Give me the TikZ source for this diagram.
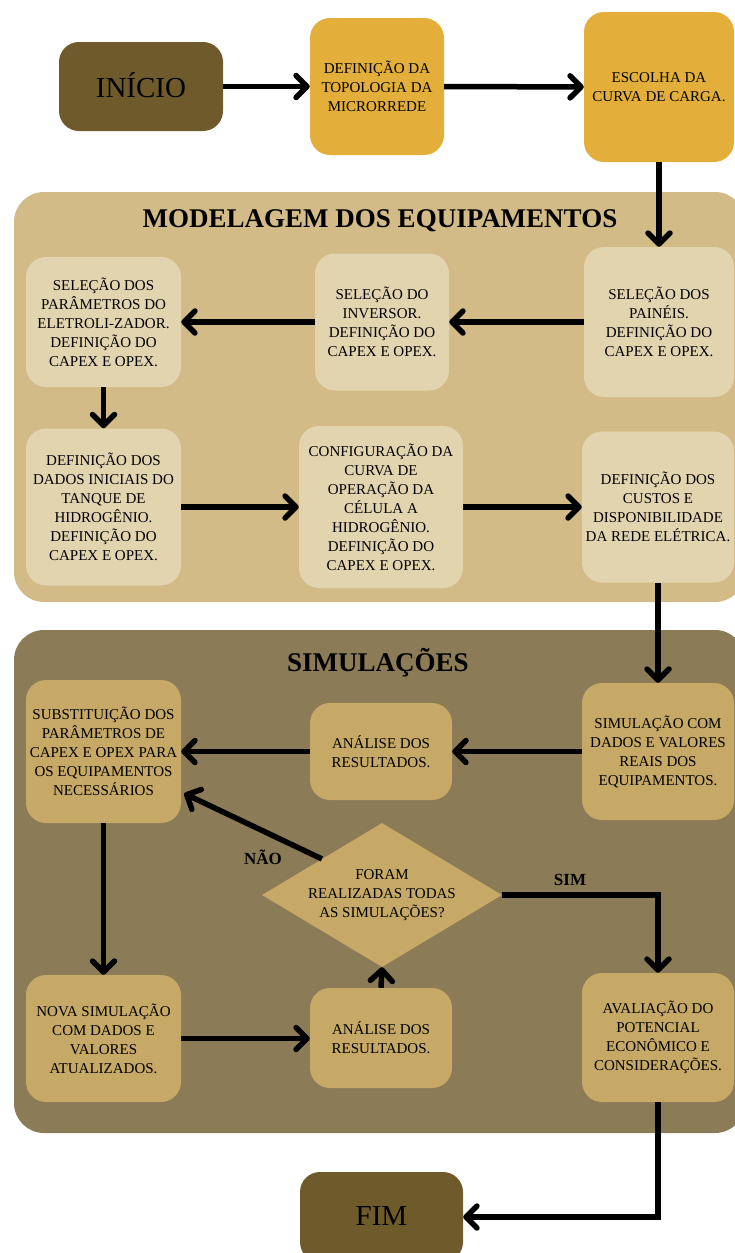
\documentclass[tikz,border=0pt]{standalone}
\usepackage{fontspec}
\setmainfont{Liberation Serif}
\usetikzlibrary{arrows.meta,shapes.geometric,calc}
\definecolor{darkb}{HTML}{6F5A2C}
\definecolor{goldb}{HTML}{E3AF3A}
\definecolor{panelA}{HTML}{D3BB88}
\definecolor{lightb}{HTML}{E2D4AF}
\definecolor{panelB}{HTML}{8C7B57}
\definecolor{simb}{HTML}{C6A867}
\begin{document}
\begin{tikzpicture}[x=1pt,y=-1pt,
  box/.style={rounded corners=20pt, align=center, inner sep=0pt, text=black,
    font=\fontsize{15}{19}\selectfont},
  darkbox/.style={box, fill=darkb, font=\fontsize{29}{32}\selectfont},
  goldbox/.style={box, fill=goldb},
  lightbox/.style={box, fill=lightb},
  simbox/.style={box, fill=simb},
  paneltitle/.style={font=\fontsize{27}{30}\selectfont\bfseries, text=black, inner sep=0pt},
  lbl/.style={font=\fontsize{17}{20}\selectfont\bfseries, text=black, inner sep=0pt},
  arr/.style={line width=5.5pt, black, -{Straight Barb[length=11pt,width=22pt,round]}},
  conn/.style={line width=5.5pt, black}]
\useasboundingbox (0,0) rectangle (735,1253);
\clip (0,0) rectangle (735,1253);

% top row
\node[darkbox, minimum width=164pt, minimum height=89pt] (inicio) at (141,86.5) {\raisebox{2pt}{INÍCIO}};
\node[goldbox, minimum width=134pt, minimum height=137pt] (topo) at (377,86.5) {DEFINIÇÃO DA\\TOPOLOGIA DA\\MICRORREDE};
\node[goldbox, minimum width=150pt, minimum height=150pt] (escolha) at (659,87) {ESCOLHA DA\\CURVA DE CARGA.};

% panel 1
\fill[panelA, rounded corners=30pt] (14,192) rectangle (745,602);
\node[paneltitle] (title1) at (380,221) {MODELAGEM DOS EQUIPAMENTOS};
\node[lightbox, minimum width=150pt, minimum height=150pt] (paineis) at (659,322) {SELEÇÃO DOS\\PAINÉIS.\\DEFINIÇÃO DO\\CAPEX E OPEX.};
\node[lightbox, minimum width=134pt, minimum height=137pt] (inversor) at (382,322) {SELEÇÃO DO\\INVERSOR.\\DEFINIÇÃO DO\\CAPEX E OPEX.};
\node[lightbox, minimum width=155pt, minimum height=130pt] (eletro) at (103.5,322) {SELEÇÃO DOS\\PARÂMETROS DO\\ELETROLI-ZADOR.\\DEFINIÇÃO DO\\CAPEX E OPEX.};
\node[lightbox, minimum width=155pt, minimum height=157pt] (dados) at (103.5,507) {DEFINIÇÃO DOS\\DADOS INICIAIS DO\\TANQUE DE\\HIDROGÊNIO.\\DEFINIÇÃO DO\\CAPEX E OPEX.};
\node[lightbox, minimum width=164pt, minimum height=162pt] (config) at (381,507) {CONFIGURAÇÃO DA\\CURVA DE\\OPERAÇÃO DA\\CÉLULA A\\HIDROGÊNIO.\\DEFINIÇÃO DO\\CAPEX E OPEX.};
\node[lightbox, minimum width=152pt, minimum height=151pt] (custos) at (658,507) {DEFINIÇÃO DOS\\CUSTOS E\\DISPONIBILIDADE\\DA REDE ELÉTRICA.};

% panel 2
\fill[panelB, rounded corners=30pt] (14,630) rectangle (745,1133);
\node[paneltitle] (title2) at (378,663) {SIMULAÇÕES};
\node[simbox, minimum width=152pt, minimum height=137pt] (simul) at (658,751.5) {SIMULAÇÃO COM\\DADOS E VALORES\\REAIS DOS\\EQUIPAMENTOS.};
\node[simbox, minimum width=142pt, minimum height=97pt] (anal1) at (381,751.5) {ANÁLISE DOS\\RESULTADOS.};
\node[simbox, minimum width=155pt, minimum height=143pt] (subst) at (103.5,751.5) {SUBSTITUIÇÃO DOS\\PARÂMETROS DE\\CAPEX E OPEX PARA\\OS EQUIPAMENTOS\\NECESSÁRIOS};
\node[diamond, aspect=1.667, fill=simb, inner sep=0pt, minimum width=240pt, minimum height=144pt,
  align=center, text=black, font=\fontsize{15}{19}\selectfont] (decision) at (382,895) {FORAM\\REALIZADAS TODAS\\AS SIMULAÇÕES?};
\node[simbox, minimum width=155pt, minimum height=127pt] (nova) at (103.5,1038.5) {NOVA SIMULAÇÃO\\COM DADOS E\\VALORES\\ATUALIZADOS.};
\node[simbox, minimum width=142pt, minimum height=100pt] (anal2) at (381,1038) {ANÁLISE DOS\\RESULTADOS.};
\node[simbox, minimum width=152pt, minimum height=129pt] (aval) at (658,1037.5) {AVALIAÇÃO DO\\POTENCIAL\\ECONÔMICO E\\CONSIDERAÇÕES.};

% end
\node[darkbox, minimum width=163pt, minimum height=90pt] (fim) at (381.5,1217) {\raisebox{2pt}{FIM}};

% labels
\node[lbl] (nao) at (263,857) {NÃO};
\node[lbl] (sim) at (570,880) {SIM};

% connectors
\draw[arr] (inicio) -- (topo);
\draw[arr] (topo) -- (escolha);
\draw[arr] (escolha.south) -- (escolha.south |- paineis.north);
\draw[arr] (paineis.west) -- (paineis.west -| inversor.east);
\draw[arr] (inversor.west) -- (inversor.west -| eletro.east);
\draw[arr] (eletro) -- (dados);
\draw[arr] (dados.east) -- (dados.east -| config.west);
\draw[arr] (config.east) -- (config.east -| custos.west);
\draw[arr] (custos.south) -- (custos.south |- simul.north);
\draw[arr] (simul.west) -- (simul.west -| anal1.east);
\draw[arr] (anal1.west) -- (anal1.west -| subst.east);
\draw[arr] (subst) -- (nova);
\draw[arr] (nova.east) -- (nova.east -| anal2.west);
\draw[arr] (anal2.north) -- (decision.south);
\draw[arr] (decision.north west) -- ($(subst.east)+(3,42)$);
\draw[arr] (decision.east) -| (aval.north);
\draw[arr] (aval.south) |- (fim.east);
\end{tikzpicture}
\end{document}
